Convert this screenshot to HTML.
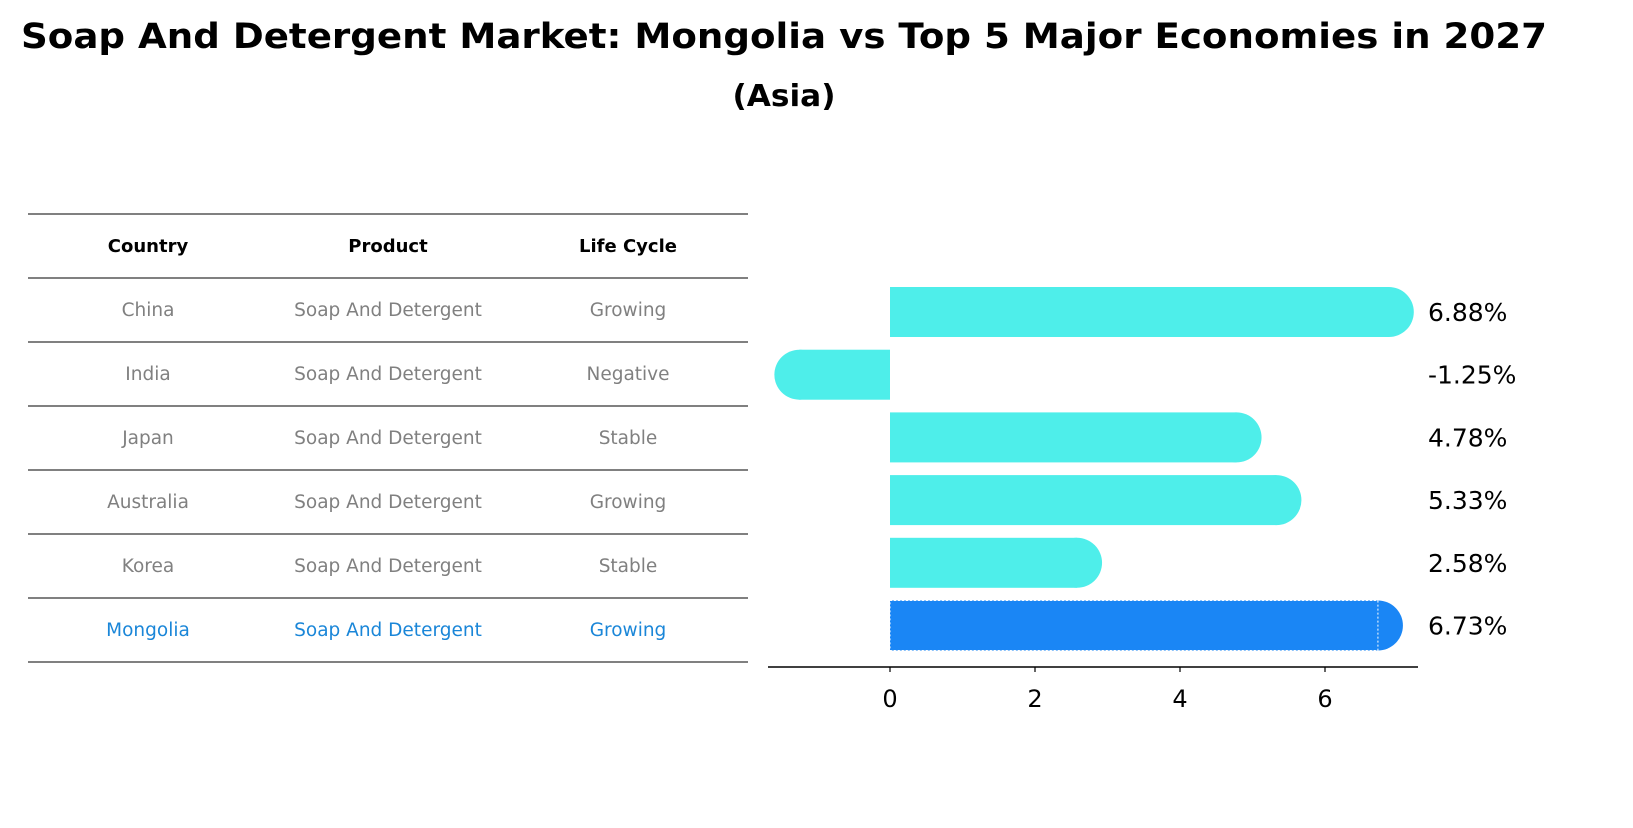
<!DOCTYPE html>
<html><head><meta charset="utf-8"><style>
body{margin:0;background:#fff;font-family:"Liberation Sans","DejaVu Sans",sans-serif;}
</style></head><body>
<svg width="1633" height="823" xmlns="http://www.w3.org/2000/svg" font-family="DejaVu Sans, Liberation Sans, sans-serif">
<text x="784" y="48" text-anchor="middle" font-size="35" font-weight="bold" textLength="1526" lengthAdjust="spacingAndGlyphs">Soap And Detergent Market: Mongolia vs Top 5 Major Economies in 2027</text>
<text x="784" y="106" text-anchor="middle" font-size="30" font-weight="bold" textLength="103" lengthAdjust="spacingAndGlyphs">(Asia)</text>
<g id="table"></g>
<g id="chart"></g>
</svg>
<script>
const countries=["China","India","Japan","Australia","Korea","Mongolia"];
const products=["Soap And Detergent","Soap And Detergent","Soap And Detergent","Soap And Detergent","Soap And Detergent","Soap And Detergent"];
const lifeCycles=["Growing","Negative","Stable","Growing","Stable","Growing"];
const values=[6.88,-1.25,4.78,5.33,2.58,6.73];
const valueLabels=["6.88%","-1.25%","4.78%","5.33%","2.58%","6.73%"];
const ticks=[0,2,4,6];
const NS="http://www.w3.org/2000/svg";
function mk(p,t,a,txt){const e=document.createElementNS(NS,t);for(const k in a)e.setAttribute(k,a[k]);if(txt!==undefined)e.textContent=txt;p.appendChild(e);return e;}
const tbl=document.getElementById('table');
const colX=[148,388,628];
const rowY=i=>214+64*i;
for(let i=0;i<=7;i++){const l=mk(tbl,'line',{x1:28,x2:748,y1:rowY(i),y2:rowY(i),stroke:'#000','stroke-width':1});

}
["Country","Product","Life Cycle"].forEach((h,j)=>{const t=mk(tbl,'text',{x:colX[j],y:rowY(0)+38,'text-anchor':'middle','font-size':18,'font-weight':'bold'},h);

});
countries.forEach((c,i)=>{const col=i===countries.length-1?'#1a86d8':'#808080';
[c,products[i],lifeCycles[i]].forEach((v,j)=>{const t=mk(tbl,'text',{x:colX[j],y:rowY(i+1)+38,'text-anchor':'middle','font-size':18.5,fill:col},v);

});});
const ch=document.getElementById('chart');
const x0=890,ppu=72.5;
const xs=v=>x0+v*ppu;
const yc=i=>312+62.7*i;
const h=50,r=25;
values.forEach((v,i)=>{const last=i===values.length-1;const fill=last?'#1a86f5':'#4eeeea';
const g=mk(ch,'g',{});


const a=Math.min(xs(0),xs(v)),b=Math.max(xs(0),xs(v));
mk(g,'rect',{x:a,y:yc(i)-h/2,width:b-a,height:h,fill:fill});
mk(g,'circle',{cx:xs(v),cy:yc(i),r:r,fill:fill});
if(last){mk(g,'rect',{x:a,y:yc(i)-h/2,width:b-a,height:h,fill:'none',stroke:'#fff','stroke-dasharray':'2,2','stroke-width':1});}
const t=mk(ch,'text',{x:1428,y:yc(i)+9,'font-size':25},valueLabels[i]);

});
const ax=mk(ch,'line',{x1:768,x2:1418,y1:667,y2:667,stroke:'#000','stroke-width':1.5});


ticks.forEach(t=>{mk(ch,'line',{x1:xs(t),x2:xs(t),y1:667,y2:672,stroke:'#000','stroke-width':1.2});
const tx=mk(ch,'text',{x:xs(t),y:707,'text-anchor':'middle','font-size':24},String(t));

});
</script>
</body></html>
